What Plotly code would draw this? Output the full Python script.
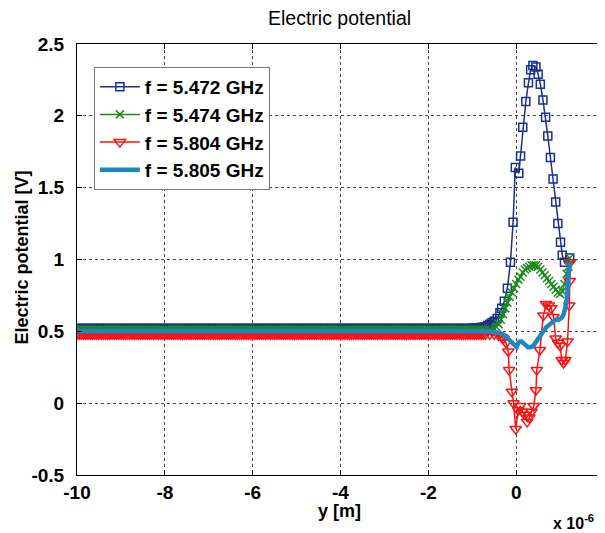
import numpy as np
import plotly.graph_objects as go

# ---------------- data (x in micrometres, converted to metres below) -------------
# far-field sampling grid (flat region), 186 samples from -10 to -0.75 um
x_far_um = np.round(np.arange(-10.0, -0.749, 0.05), 3)

blue_far = [
    0.52, 0.52, 0.52, 0.52, 0.52, 0.52, 0.52, 0.52, 0.52, 0.52,
    0.52, 0.52, 0.52, 0.52, 0.52, 0.52, 0.52, 0.52, 0.52, 0.52,
    0.52, 0.52, 0.52, 0.52, 0.52, 0.52, 0.52, 0.52, 0.52, 0.52,
    0.52, 0.52, 0.52, 0.52, 0.52, 0.52, 0.52, 0.52, 0.52, 0.52,
    0.52, 0.52, 0.52, 0.52, 0.52, 0.52, 0.52, 0.52, 0.52, 0.52,
    0.52, 0.52, 0.52, 0.52, 0.52, 0.52, 0.52, 0.52, 0.52, 0.52,
    0.52, 0.52, 0.52, 0.52, 0.52, 0.52, 0.52, 0.52, 0.52, 0.52,
    0.52, 0.52, 0.52, 0.52, 0.52, 0.52, 0.52, 0.52, 0.52, 0.52,
    0.52, 0.52, 0.52, 0.52, 0.52, 0.52, 0.52, 0.52, 0.52, 0.52,
    0.52, 0.52, 0.52, 0.52, 0.52, 0.52, 0.52, 0.52, 0.52, 0.52,
    0.52, 0.52, 0.52, 0.52, 0.52, 0.52, 0.52, 0.52, 0.52, 0.52,
    0.52, 0.52, 0.52, 0.52, 0.52, 0.52, 0.52, 0.52, 0.52, 0.52,
    0.52, 0.52, 0.52, 0.52, 0.52, 0.52, 0.52, 0.52, 0.52, 0.52,
    0.52, 0.52, 0.52, 0.52, 0.52, 0.52, 0.52, 0.52, 0.52, 0.52,
    0.52, 0.52, 0.52, 0.52, 0.52, 0.52, 0.52, 0.52, 0.52, 0.52,
    0.52, 0.52, 0.52, 0.52, 0.52, 0.52, 0.52, 0.52, 0.52, 0.52,
    0.52, 0.52, 0.52, 0.52, 0.52, 0.52, 0.52, 0.52, 0.52, 0.52,
    0.52, 0.52, 0.52, 0.52, 0.52, 0.52, 0.52, 0.52, 0.52, 0.52,
    0.521, 0.522, 0.523, 0.524, 0.526, 0.528]
green_far = [
    0.51, 0.51, 0.51, 0.51, 0.51, 0.51, 0.51, 0.51, 0.51, 0.51,
    0.51, 0.51, 0.51, 0.51, 0.51, 0.51, 0.51, 0.51, 0.51, 0.51,
    0.51, 0.51, 0.51, 0.51, 0.51, 0.51, 0.51, 0.51, 0.51, 0.51,
    0.51, 0.51, 0.51, 0.51, 0.51, 0.51, 0.51, 0.51, 0.51, 0.51,
    0.51, 0.51, 0.51, 0.51, 0.51, 0.51, 0.51, 0.51, 0.51, 0.51,
    0.51, 0.51, 0.51, 0.51, 0.51, 0.51, 0.51, 0.51, 0.51, 0.51,
    0.51, 0.51, 0.51, 0.51, 0.51, 0.51, 0.51, 0.51, 0.51, 0.51,
    0.51, 0.51, 0.51, 0.51, 0.51, 0.51, 0.51, 0.51, 0.51, 0.51,
    0.51, 0.51, 0.51, 0.51, 0.51, 0.51, 0.51, 0.51, 0.51, 0.51,
    0.51, 0.51, 0.51, 0.51, 0.51, 0.51, 0.51, 0.51, 0.51, 0.51,
    0.51, 0.51, 0.51, 0.51, 0.51, 0.51, 0.51, 0.51, 0.51, 0.51,
    0.51, 0.51, 0.51, 0.51, 0.51, 0.51, 0.51, 0.51, 0.51, 0.51,
    0.51, 0.51, 0.51, 0.51, 0.51, 0.51, 0.51, 0.51, 0.51, 0.51,
    0.51, 0.51, 0.51, 0.51, 0.51, 0.51, 0.51, 0.51, 0.51, 0.51,
    0.51, 0.51, 0.51, 0.51, 0.51, 0.51, 0.51, 0.51, 0.51, 0.51,
    0.51, 0.51, 0.51, 0.51, 0.51, 0.51, 0.51, 0.51, 0.51, 0.51,
    0.51, 0.51, 0.51, 0.51, 0.51, 0.51, 0.51, 0.51, 0.51, 0.51,
    0.51, 0.51, 0.51, 0.51, 0.51, 0.51, 0.51, 0.51, 0.51, 0.51,
    0.51, 0.51, 0.51, 0.51, 0.51, 0.51]
red_far = [
    0.48, 0.48, 0.48, 0.48, 0.48, 0.48, 0.48, 0.48, 0.48, 0.48,
    0.48, 0.48, 0.48, 0.48, 0.48, 0.48, 0.48, 0.48, 0.48, 0.48,
    0.48, 0.48, 0.48, 0.48, 0.48, 0.48, 0.48, 0.48, 0.48, 0.48,
    0.48, 0.48, 0.48, 0.48, 0.48, 0.48, 0.48, 0.48, 0.48, 0.48,
    0.48, 0.48, 0.48, 0.48, 0.48, 0.48, 0.48, 0.48, 0.48, 0.48,
    0.48, 0.48, 0.48, 0.48, 0.48, 0.48, 0.48, 0.48, 0.48, 0.48,
    0.48, 0.48, 0.48, 0.48, 0.48, 0.48, 0.48, 0.48, 0.48, 0.48,
    0.48, 0.48, 0.48, 0.48, 0.48, 0.48, 0.48, 0.48, 0.48, 0.48,
    0.48, 0.48, 0.48, 0.48, 0.48, 0.48, 0.48, 0.48, 0.48, 0.48,
    0.48, 0.48, 0.48, 0.48, 0.48, 0.48, 0.48, 0.48, 0.48, 0.48,
    0.48, 0.48, 0.48, 0.48, 0.48, 0.48, 0.48, 0.48, 0.48, 0.48,
    0.48, 0.48, 0.48, 0.48, 0.48, 0.48, 0.48, 0.48, 0.48, 0.48,
    0.48, 0.48, 0.48, 0.48, 0.48, 0.48, 0.48, 0.48, 0.48, 0.48,
    0.48, 0.48, 0.48, 0.48, 0.48, 0.48, 0.48, 0.48, 0.48, 0.48,
    0.48, 0.48, 0.48, 0.48, 0.48, 0.48, 0.48, 0.48, 0.48, 0.48,
    0.48, 0.48, 0.48, 0.48, 0.48, 0.48, 0.48, 0.48, 0.48, 0.48,
    0.48, 0.48, 0.48, 0.48, 0.48, 0.48, 0.48, 0.48, 0.48, 0.48,
    0.48, 0.48, 0.48, 0.48, 0.48, 0.48, 0.48, 0.48, 0.48, 0.48,
    0.48, 0.48, 0.48, 0.48, 0.48, 0.48]
cyan_far = [
    0.50, 0.50, 0.50, 0.50, 0.50, 0.50, 0.50, 0.50, 0.50, 0.50,
    0.50, 0.50, 0.50, 0.50, 0.50, 0.50, 0.50, 0.50, 0.50, 0.50,
    0.50, 0.50, 0.50, 0.50, 0.50, 0.50, 0.50, 0.50, 0.50, 0.50,
    0.50, 0.50, 0.50, 0.50, 0.50, 0.50, 0.50, 0.50, 0.50, 0.50,
    0.50, 0.50, 0.50, 0.50, 0.50, 0.50, 0.50, 0.50, 0.50, 0.50,
    0.50, 0.50, 0.50, 0.50, 0.50, 0.50, 0.50, 0.50, 0.50, 0.50,
    0.50, 0.50, 0.50, 0.50, 0.50, 0.50, 0.50, 0.50, 0.50, 0.50,
    0.50, 0.50, 0.50, 0.50, 0.50, 0.50, 0.50, 0.50, 0.50, 0.50,
    0.50, 0.50, 0.50, 0.50, 0.50, 0.50, 0.50, 0.50, 0.50, 0.50,
    0.50, 0.50, 0.50, 0.50, 0.50, 0.50, 0.50, 0.50, 0.50, 0.50,
    0.50, 0.50, 0.50, 0.50, 0.50, 0.50, 0.50, 0.50, 0.50, 0.50,
    0.50, 0.50, 0.50, 0.50, 0.50, 0.50, 0.50, 0.50, 0.50, 0.50,
    0.50, 0.50, 0.50, 0.50, 0.50, 0.50, 0.50, 0.50, 0.50, 0.50,
    0.50, 0.50, 0.50, 0.50, 0.50, 0.50, 0.50, 0.50, 0.50, 0.50,
    0.50, 0.50, 0.50, 0.50, 0.50, 0.50, 0.50, 0.50, 0.50, 0.50,
    0.50, 0.50, 0.50, 0.50, 0.50, 0.50, 0.50, 0.50, 0.50, 0.50,
    0.50, 0.50, 0.50, 0.50, 0.50, 0.50, 0.50, 0.50, 0.50, 0.50,
    0.50, 0.50, 0.50, 0.50, 0.50, 0.50, 0.50, 0.50, 0.50, 0.50,
    0.50, 0.50, 0.50, 0.50, 0.50, 0.50]

# near-field (active region) samples
blue_x = [-0.7, -0.65, -0.6, -0.55, -0.5, -0.43, -0.37, -0.33, -0.27, -0.2,
          -0.13, -0.07, -0.02, 0.06, 0.1, 0.15, 0.22, 0.28, 0.33, 0.38,
          0.45, 0.5, 0.55, 0.61, 0.67, 0.72, 0.78, 0.84, 0.9, 0.95,
          1.01, 1.05, 1.1, 1.22]
blue_y = [0.53, 0.54, 0.55, 0.56, 0.57, 0.59, 0.63, 0.66, 0.71, 0.80,
          0.98, 1.26, 1.64, 1.60, 1.72, 1.92, 2.10, 2.23, 2.32, 2.35,
          2.34, 2.29, 2.22, 2.11, 1.99, 1.86, 1.71, 1.56, 1.40, 1.25,
          1.12, 1.03, 0.98, 1.01]

green_x = [-0.7, -0.6, -0.5, -0.45, -0.4, -0.35, -0.3, -0.25, -0.2, -0.15,
           -0.1, -0.05, 0.0, 0.05, 0.1, 0.15, 0.2, 0.25, 0.3, 0.35,
           0.4, 0.45, 0.5, 0.55, 0.6, 0.65, 0.7, 0.75, 0.8, 0.85,
           0.9, 0.95, 1.0, 1.05, 1.1, 1.15, 1.19, 1.22]
green_y = [0.51, 0.51, 0.52, 0.53, 0.55, 0.58, 0.62, 0.66, 0.70, 0.74,
           0.77, 0.80, 0.83, 0.86, 0.88, 0.91, 0.93, 0.94, 0.95, 0.96,
           0.96, 0.96, 0.95, 0.93, 0.91, 0.89, 0.87, 0.85, 0.83, 0.81,
           0.79, 0.77, 0.76, 0.78, 0.83, 0.90, 0.95, 1.01]

red_x = [-0.7, -0.6, -0.5, -0.4, -0.33, -0.29, -0.23, -0.18, -0.16, -0.1,
         -0.06, -0.01, 0.05, 0.09, 0.14, 0.2, 0.25, 0.3, 0.35, 0.4,
         0.45, 0.47, 0.54, 0.62, 0.68, 0.74, 0.8, 0.85, 0.9, 0.95,
         1.0, 1.04, 1.08, 1.12, 1.17, 1.21, 1.22, 1.23]
red_y = [0.48, 0.48, 0.48, 0.47, 0.46, 0.45, 0.42, 0.36, 0.23, 0.08,
         0.00, -0.18, -0.05, -0.02, -0.06, -0.08, -0.13, -0.10, -0.06, -0.02,
         0.09, 0.23, 0.37, 0.61, 0.69, 0.68, 0.66, 0.60, 0.45, 0.42,
         0.40, 0.30, 0.28, 0.30, 0.43, 0.68, 0.85, 0.98]

cyan_x = [-0.7, -0.6, -0.4, -0.3, -0.22, -0.15, -0.1, -0.04, 0.01, 0.05,
          0.08, 0.12, 0.16, 0.22, 0.27, 0.33, 0.39, 0.46, 0.54, 0.62,
          0.69, 0.76, 0.84, 0.9, 0.96, 1.02, 1.07, 1.11, 1.15, 1.18, 1.22]
cyan_y = [0.50, 0.50, 0.49, 0.48, 0.46, 0.44, 0.43, 0.41, 0.39, 0.42,
          0.43, 0.43, 0.42, 0.40, 0.39, 0.39, 0.40, 0.43, 0.46, 0.50,
          0.53, 0.55, 0.57, 0.58, 0.58, 0.59, 0.61, 0.65, 0.72, 0.86, 0.98]

labels = ["f = 5.472 GHz", "f = 5.474 GHz", "f = 5.804 GHz", "f = 5.805 GHz"]
x_tick_vals_um = [-10, -8, -6, -4, -2, 0]
x_tick_text = ["-10", "-8", "-6", "-4", "-2", "0"]
y_tick_vals = [-0.5, 0, 0.5, 1, 1.5, 2, 2.5]
y_tick_text = ["-0.5", "0", "0.5", "1", "1.5", "2", "2.5"]

# ---------------- build ------------------------------------------------------------
def to_m(xs):
    return [float(v) * 1e-6 for v in xs]

xf = list(x_far_um)

BLUE = "#1a2f8f"
GREEN = "#1a8c1a"
RED = "#ff1010"
CYAN = "#1f86c6"

fig = go.Figure()
fig.add_trace(go.Scatter(
    x=to_m(xf + blue_x), y=blue_far + blue_y, mode="lines+markers", name=labels[0],
    legendgroup="a", line=dict(color=BLUE, width=1.5),
    marker=dict(symbol="square-open", size=8, color=BLUE, line=dict(width=1.5, color=BLUE))))
fig.add_trace(go.Scatter(
    x=to_m(xf + green_x), y=green_far + green_y, mode="lines+markers", name=labels[1],
    legendgroup="b", line=dict(color=GREEN, width=1.5),
    marker=dict(symbol="x-thin", size=8, color=GREEN, line=dict(width=1.5, color=GREEN))))
fig.add_trace(go.Scatter(
    x=to_m(xf + red_x), y=red_far + red_y, mode="lines+markers", name=labels[2],
    legendgroup="c", line=dict(color=RED, width=1.5),
    marker=dict(symbol="triangle-down-open", size=10, color=RED, line=dict(width=1.5, color=RED))))
fig.add_trace(go.Scatter(
    x=to_m(xf + cyan_x), y=cyan_far + cyan_y, mode="lines", name=labels[3],
    legendgroup="d", line=dict(color=CYAN, width=4.5)))

FONT = "Arial, Liberation Sans, sans-serif"

# the page body has an 8px margin, so the plot frame is offset by -8px here
fig.update_layout(
    width=605, height=533,
    margin=dict(l=69, r=9, t=36, b=66, autoexpand=False),
    paper_bgcolor="white", plot_bgcolor="white",
    font=dict(family=FONT, color="black"),
    showlegend=True,
    legend=dict(x=0.032, y=0.947, xanchor="left", yanchor="top",
                bgcolor="white", bordercolor="#777", borderwidth=1,
                font=dict(size=19, family=FONT, color="black", weight="bold"),
                tracegroupgap=0, itemwidth=40),
    xaxis=dict(range=[-10e-6, 2e-6], tickvals=to_m(x_tick_vals_um), ticktext=x_tick_text,
               automargin=False,
               showgrid=True, gridcolor="#444", griddash="dot", gridwidth=1,
               showline=True, linecolor="black", linewidth=1, mirror="ticks",
               ticks="inside", ticklen=5, tickcolor="black", zeroline=False,
               ticklabelstandoff=0,
               tickfont=dict(size=19, family=FONT, weight="bold")),
    yaxis=dict(range=[-0.5, 2.5], tickvals=y_tick_vals, ticktext=y_tick_text,
               automargin=False,
               showgrid=True, gridcolor="#444", griddash="dot", gridwidth=1,
               showline=True, linecolor="black", linewidth=1, mirror=False,
               ticks="inside", ticklen=5, tickcolor="black", zeroline=False,
               ticklabelstandoff=8,
               tickfont=dict(size=19, family=FONT, weight="bold")),
)

# chart title and axis titles, placed as in the reference
fig.add_annotation(xref="paper", yref="paper", x=0.499, y=1.0603, xanchor="center", yanchor="middle",
                   text="Electric potential", showarrow=False,
                   font=dict(size=19.5, family=FONT, color="black"))
fig.add_annotation(xref="paper", yref="paper", x=0.499, y=-0.083, xanchor="center", yanchor="middle",
                   text="y [m]", showarrow=False,
                   font=dict(size=18, family=FONT, color="black", weight="bold"))
fig.add_annotation(xref="paper", yref="paper", x=-0.1044, y=0.5046, xanchor="center", yanchor="middle",
                   text="Electric potential [V]", showarrow=False, textangle=-90,
                   font=dict(size=18, family=FONT, color="black", weight="bold"))
fig.add_annotation(xref="paper", yref="paper", x=0.9, y=-0.108, xanchor="left", yanchor="middle",
                   text="x 10<sup>-6</sup>", showarrow=False,
                   font=dict(size=16, family=FONT, color="black", weight="bold"))

fig.write_html("out.html")
